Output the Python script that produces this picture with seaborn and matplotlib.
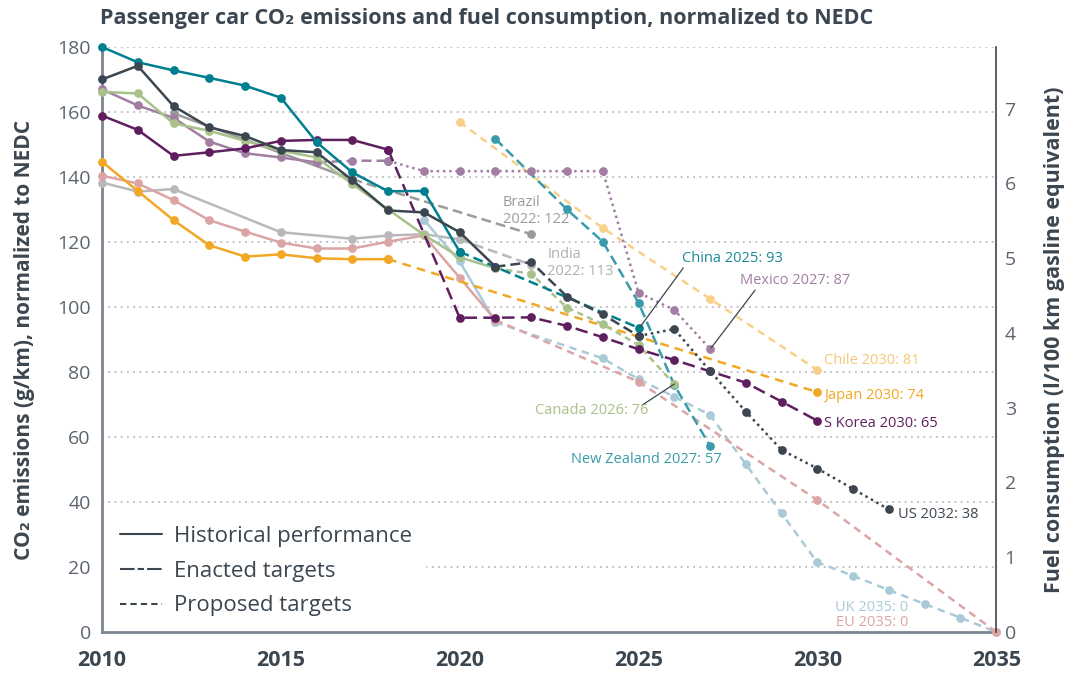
import pandas as pd
import seaborn as sns
import matplotlib
matplotlib.use("Agg")
import matplotlib.pyplot as plt
from matplotlib.lines import Line2D

# CO2 values (g/km, NEDC)
us_years = list(range(2010, 2033))
us_co2 = [170, 174.2, 161.8, 155.3, 152.6, 148.3, 147.6, 139, 129.7, 129.1, 123, 112.4,
          113.8, 103.2, 97.7, 91.1, 93.2, 80.3, 67.8, 56, 50.3, 44, 37.7]

china_years = list(range(2010, 2021)) + [2025]
china_co2 = [180, 175.3, 172.8, 170.5, 168.1, 164.4, 150.7, 141.4, 135.6, 135.7, 117, 93.6]

eu_years = list(range(2010, 2022)) + [2025, 2030, 2035]
eu_co2 = [140.4, 138, 132.9, 126.7, 123.2, 119.8, 118, 118, 120.1, 122, 109, 96, 77, 40.6, 0]

uk_years = [2019, 2020, 2021] + list(range(2024, 2036))
uk_co2 = [126.8, 114, 95.3, 84.2, 77.8, 72.4, 66.8, 51.6, 36.5, 21.4, 17.3, 12.9, 8.6, 4.4, 0]

japan_years = list(range(2010, 2019)) + [2030]
japan_co2 = [144.7, 135.7, 126.7, 119, 115.5, 116.2, 115, 114.7, 114.7, 73.8]

canada_years = list(range(2010, 2027))
canada_co2 = [166.2, 165.7, 156.5, 154.2, 151.1, 148.1, 146, 137.8, 130, 122.2, 115.3, 111.9,
              110.2, 99.8, 94.7, 88.3, 76.2]

mexico_years = list(range(2010, 2028))
mexico_co2 = [167, 162, 158.2, 150.9, 147.3, 146, 144.5, 145, 145, 141.8, 141.8, 141.8,
              141.8, 141.8, 141.8, 104.4, 99.1, 87.1]

korea_years = list(range(2010, 2019)) + list(range(2020, 2031))
korea_co2 = [158.9, 154.5, 146.5, 147.6, 148.8, 151.1, 151.4, 151.4, 148.4,
             96.7, 96.7, 96.8, 94.2, 90.7, 87, 83.7, 80.2, 76.7, 70.9, 65]

india_years = [2010, 2011, 2012, 2015, 2017, 2018, 2019, 2020, 2022]
india_co2 = [138.3, 135.5, 136.3, 123, 121, 122, 122.4, 120.8, 113]

brazil_years = [2012, 2017, 2022]
brazil_co2 = [159.6, 139.3, 122.4]

chile_years = [2020, 2024, 2027, 2030]
chile_co2 = [156.9, 124.3, 102.5, 80.6]

nz_years = [2021, 2023, 2024, 2025, 2026, 2027]
nz_co2 = [151.7, 130, 120.1, 101.3, 76, 57.2]

CO2_PER_L = 23.0  # g CO2/km per l/100 km gasoline

legend_labels = ["Historical performance", "Enacted targets", "Proposed targets"]

FONT = ["Open Sans", "DejaVu Sans"]
DARK = "#3b4650"

sns.set_style("white")
plt.rcParams["font.family"] = FONT

fig = plt.figure(figsize=(10.71, 6.75), dpi=100)
ax = fig.add_axes([0.0952, 0.0637, 0.835, 0.8667])

SOLID = "-"
LONG = (0, (4, 2))
SHORT = (0, (3, 2.2))
DOT = (0, (1, 1.5))


def draw(years, vals, color, segs, z):
    s = pd.Series(vals, index=years)
    for a, b, ls in segs:
        part = s.loc[a:b]
        sns.lineplot(x=list(part.index), y=list(part.values), ax=ax, color=color,
                     linestyle=ls, lw=1.8, marker="o", ms=6.3, mec=color, mew=0,
                     errorbar=None, clip_on=False, zorder=z)


draw(brazil_years, brazil_co2, "#9b9b9b", [(2012, 2017, SOLID), (2017, 2022, LONG)], 3)
draw(india_years, india_co2, "#b9b9bb", [(2010, 2020, SOLID), (2020, 2022, LONG)], 3)
draw(uk_years, uk_co2, "#a9cad6", [(2019, 2021, SOLID), (2021, 2035, SHORT)], 4)
draw(eu_years, eu_co2, "#dca5a5", [(2010, 2021, SOLID), (2021, 2035, SHORT)], 4)
draw(chile_years, chile_co2, "#f9d08a", [(2020, 2030, SHORT)], 4)
draw(nz_years, nz_co2, "#3a9bac", [(2021, 2027, LONG)], 5)
draw(mexico_years, mexico_co2, "#a27fa2", [(2010, 2016, SOLID), (2016, 2018, LONG),
                                          (2018, 2027, DOT)], 5)
draw(japan_years, japan_co2, "#f2a824", [(2010, 2018, SOLID), (2018, 2030, (0, (3.5, 2.5)))], 6)
draw(canada_years, canada_co2, "#a9c18b", [(2010, 2021, SOLID), (2021, 2026, (0, (2.5, 1.8)))], 6)
draw(korea_years, korea_co2, "#5f1f5f", [(2010, 2018, SOLID), (2018, 2030, (0, (5, 2.5)))], 7)
draw(china_years, china_co2, "#00808f", [(2010, 2020, SOLID), (2020, 2025, LONG)], 7)
draw(us_years, us_co2, DARK, [(2010, 2021, SOLID), (2021, 2025, LONG), (2025, 2032, DOT)], 8)

ax.set_xlim(2010, 2035)
ax.set_ylim(0, 180)
ax.set_xticks(range(2010, 2036, 5))
ax.set_yticks(range(0, 181, 20))
for yv in range(20, 181, 20):
    ax.axhline(yv, color="#c4c4c4", lw=1.4, linestyle=(0, (1, 2.2)), zorder=1)
ax.tick_params(axis="x", length=0, labelsize=15.5, labelcolor=DARK, pad=13)
ax.tick_params(axis="y", length=0, labelsize=14, labelcolor="#5a6570", pad=8)
for lab in ax.get_xticklabels():
    lab.set_fontweight("bold")
ax.set_xlabel("")
ax.set_ylabel("CO₂ emissions (g/km), normalized to NEDC", fontsize=15,
              fontweight="bold", color=DARK, labelpad=16)
ax.spines["top"].set_visible(False)
ax.spines["right"].set_visible(False)
for side in ["left", "bottom"]:
    ax.spines[side].set_color("#7b8590")
    ax.spines[side].set_linewidth(2)

ax2 = ax.twinx()
ax2.set_ylim(0, 180 / CO2_PER_L)
ax2.set_yticks(range(0, 8))
ax2.tick_params(axis="y", length=0, labelsize=14, labelcolor="#5a6570", pad=6)
ax2.set_ylabel("Fuel consumption (l/100 km gasline equivalent)", fontsize=15.5,
               fontweight="bold", color=DARK, labelpad=20)
for side in ["top", "left", "bottom"]:
    ax2.spines[side].set_visible(False)
ax2.spines["right"].set_color(DARK)
ax2.spines["right"].set_linewidth(1.2)

# labels
tk = dict(fontsize=10.5, va="center", zorder=10)
ax.text(2021.2, 129.5, "Brazil\n2022: 122", color="#9b9b9b", linespacing=1.2, **tk)
ax.text(2022.45, 113.5, "India\n2022: 113", color="#b0b0b2", linespacing=1.2, **tk)
ax.text(2026.22, 114.8, "China 2025: 93", color="#1a8a98", **tk)
ax.text(2027.84, 108, "Mexico 2027: 87", color="#a27fa2", **tk)
ax.text(2030.19, 83.4, "Chile 2030: 81", color="#f5c878", **tk)
ax.text(2030.19, 72.9, "Japan 2030: 74", color="#f2a824", **tk)
ax.text(2030.19, 64.3, "S Korea 2030: 65", color="#5f1f5f", **tk)
ax.text(2032.26, 36, "US 2032: 38", color=DARK, **tk)
ax.text(2032.54, 7.4, "UK 2035: 0", color="#a9cad6", ha="right", **tk)
ax.text(2032.54, 2.8, "EU 2035: 0", color="#dca5a5", ha="right", **tk)
ax.text(2023.11, 53.2, "New Zealand 2027: 57", color="#3a9bac", **tk)
ax.text(2022.11, 68, "Canada 2026: 76", color="#a9c18b", **tk)
for (x0, y0), (x1, y1) in [((2025.04, 93.8), (2026.25, 112)),
                           ((2027.03, 87.4), (2028.26, 105.2)),
                           ((2026, 76.3), (2025.1, 69.8))]:
    ax.plot([x0, x1], [y0, y1], color=DARK, lw=0.9, zorder=9)

handles = [Line2D([], [], color=DARK, lw=1.5, linestyle="-"),
           Line2D([], [], color=DARK, lw=1.5, linestyle=(0, (7, 1.5, 3, 1.5))),
           Line2D([], [], color=DARK, lw=1.5, linestyle=(0, (3, 2)))]
leg = ax.legend(handles, legend_labels, loc="lower left", bbox_to_anchor=(0.003, 0.0),
                fontsize=16, frameon=True, fancybox=False, handlelength=1.9,
                labelspacing=0.62, borderpad=0.6, handletextpad=0.5, borderaxespad=0.1)
leg.get_frame().set_facecolor("white")
leg.get_frame().set_edgecolor("white")
leg.get_frame().set_alpha(1)
leg.set_zorder(2)
for t in leg.get_texts():
    t.set_color(DARK)

fig.text(0.093, 0.973, "Passenger car CO₂ emissions and fuel consumption, normalized to NEDC",
         fontsize=15.5, fontweight="bold", color=DARK, va="center")

fig.savefig("out.png", dpi=100)
